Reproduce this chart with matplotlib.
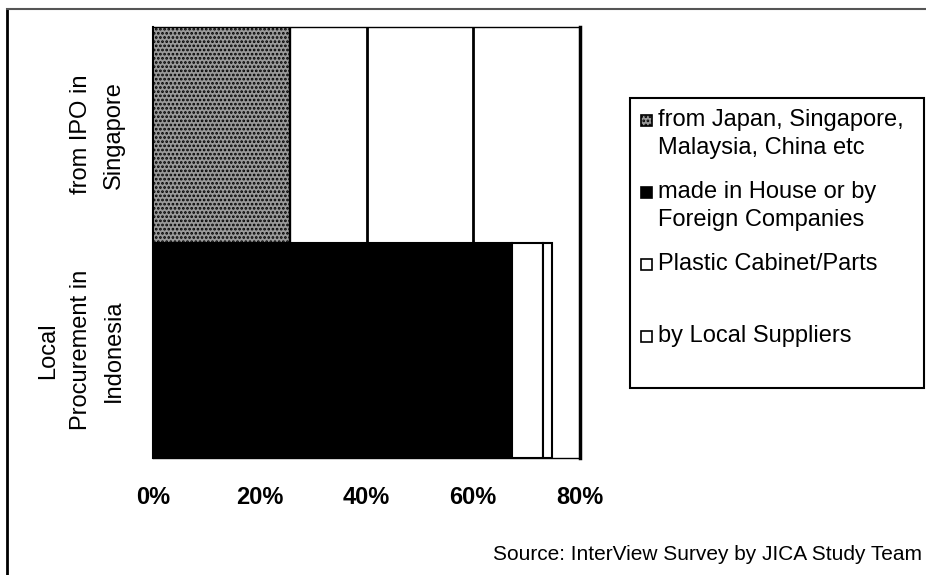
import matplotlib
matplotlib.use("Agg")
import matplotlib.pyplot as plt
from matplotlib.patches import Rectangle
from matplotlib.lines import Line2D

plt.rcParams['font.family'] = ['Liberation Sans', 'DejaVu Sans']
plt.rcParams['hatch.linewidth'] = 1.3

# ---- data -------------------------------------------------------------
categories = ["Local\nProcurement in\nIndonesia", "from IPO in\nSingapore"]
series_names = [
    "from Japan, Singapore,\nMalaysia, China etc",
    "made in House or by\nForeign Companies",
    "Plastic Cabinet/Parts",
    "by Local Suppliers",
]
imports_share = [0.0, 0.256]     # from Japan, Singapore, Malaysia, China etc
in_house_share = [0.673, 0.0]    # made in house or by foreign companies
plastic_share = [0.058, 0.0]     # plastic cabinet / parts
local_share = [0.017, 0.0]       # by local suppliers
x_ticks = [0.0, 0.2, 0.4, 0.6, 0.8]
x_tick_labels = ["0%", "20%", "40%", "60%", "80%"]
source_note = "Source: InterView Survey by JICA Study Team"

# ---- styling ------------------------------------------------------------
series_values = [imports_share, in_house_share, plastic_share, local_share]
series_styles = [
    dict(facecolor="#9a9a9a", hatch="...."),
    dict(facecolor="black"),
    dict(facecolor="white"),
    dict(facecolor="white"),
]

W, H = 926, 575
fig = plt.figure(figsize=(W / 100, H / 100), dpi=100)
fig.patch.set_facecolor("white")


def fx(px):
    return px / W


def fy(py):
    return 1 - py / H


ax = fig.add_axes([fx(153), fy(458), fx(580) - fx(153), fy(27) - fy(458)])

ypos = list(range(len(categories)))
left = [0.0] * len(categories)
for vals, style in zip(series_values, series_styles):
    ax.barh(ypos, vals, left=left, height=1.0, edgecolor="black",
            linewidth=1.5, zorder=3, **style)
    left = [l + v for l, v in zip(left, vals)]

ax.set_xlim(0, 0.8)
ax.set_ylim(-0.5, 1.5)

# vertical gridlines
ax.set_axisbelow(True)
ax.xaxis.grid(True, color="black", linewidth=2.0)

for side in ("top", "bottom"):
    ax.spines[side].set_linewidth(1.0)
ax.spines["left"].set_linewidth(1.5)
ax.spines["right"].set_linewidth(2.5)

ax.set_xticks(x_ticks, x_tick_labels, fontsize=17, fontweight="bold")
ax.tick_params(axis="x", length=0, pad=20)
ax.set_yticks(ypos, categories, rotation=90, fontsize=17,
              va="center", ha="right", multialignment="center",
              linespacing=1.65)
ax.tick_params(axis="y", length=0, pad=20)

# ---- legend box --------------------------------------------------------
fig.add_artist(Rectangle((fx(630), fy(388)), fx(924) - fx(630), fy(98) - fy(388),
                         transform=fig.transFigure, fill=False,
                         edgecolor="black", linewidth=1.5))
entry_y = [120, 192, 264, 336]
for name, style, y in zip(series_names, series_styles, entry_y):
    sq = 11
    fig.add_artist(Rectangle((fx(641), fy(y + sq / 2)), fx(sq), sq / H,
                             transform=fig.transFigure, edgecolor="black",
                             linewidth=1.2, **style))
    for i, line in enumerate(name.split("\n")):
        fig.text(fx(658), fy(y + 28 * i), line, fontsize=17,
                 ha="left", va="center")

# ---- source note and outer frame -----------------------------------------
fig.text(fx(493), fy(555), source_note, fontsize=15.0, ha="left", va="center")
fig.add_artist(Line2D([fx(7), fx(7)], [fy(9), 0], transform=fig.transFigure,
                      color="black", linewidth=2))
fig.add_artist(Line2D([fx(7), 1], [fy(9), fy(9)], transform=fig.transFigure,
                      color="#555555", linewidth=1.5))

fig.savefig("out.png", dpi=100)
